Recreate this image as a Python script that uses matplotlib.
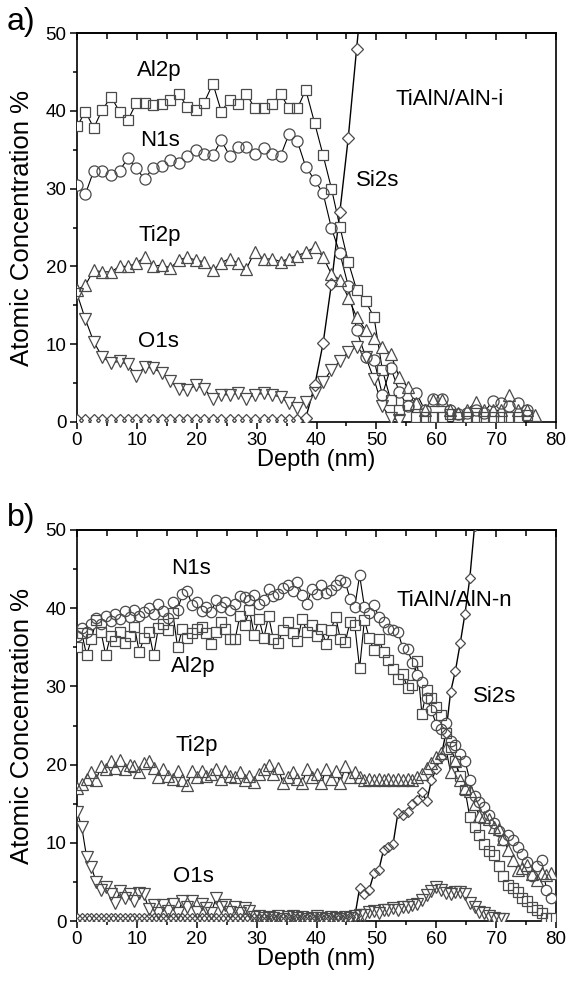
import matplotlib
matplotlib.use("Agg")
import matplotlib.pyplot as plt
from matplotlib.ticker import MultipleLocator

plt.rcParams['font.family'] = ['Liberation Sans', 'DejaVu Sans']

# ---------------- Panel a data (TiAlN/AlN-i) ----------------
depth_a = [0.0, 1.4, 2.8, 4.2, 5.7, 7.1, 8.5, 9.9, 11.3, 12.7,
           14.2, 15.6, 17.0, 18.4, 19.8, 21.2, 22.7, 24.1, 25.5, 26.9,
           28.3, 29.7, 31.2, 32.6, 34.0, 35.4, 36.8, 38.2, 39.7, 41.1,
           42.5, 43.9, 45.3, 46.7, 48.2, 49.6, 51.0, 52.4, 53.8, 55.2,
           56.7, 58.1, 59.5, 60.9, 62.3, 63.7, 65.2, 66.6, 68.0, 69.4,
           70.8, 72.2, 73.7, 75.1, 76.5]

al2p_a = [38.0, 39.9, 37.8, 40.1, 41.8, 39.9, 38.8, 41.0, 41.0, 40.7,
          40.9, 41.4, 42.2, 40.5, 40.1, 41.0, 43.5, 39.9, 41.4, 40.9,
          42.2, 40.3, 40.4, 40.9, 42.2, 40.3, 40.3, 42.7, 38.4, 34.3,
          30.0, 25.1, 20.6, 17.0, 15.5, 13.5, 6.7, 2.8, 1.5, 2.2,
          0.7, 0.7, 0.7, 0.7, 1.0, 0.7, 0.7, 0.7, 0.7, 0.7,
          0.7, 0.7, 0.7, 0.9]

n1s_a = [30.5, 29.3, 32.3, 32.2, 31.7, 32.3, 33.9, 32.6, 31.2, 32.7,
         32.9, 33.7, 33.3, 34.2, 34.9, 34.4, 34.3, 36.2, 34.2, 35.4,
         35.3, 34.4, 35.2, 34.4, 34.2, 37.0, 36.1, 32.8, 31.1, 29.4,
         24.9, 21.7, 17.5, 11.8, 8.4, 8.0, 3.5, 7.0, 3.9, 2.0,
         3.7, 1.5, 3.0, 3.0, 1.5, 1.0, 1.2, 1.5, 1.2, 2.7,
         2.4, 2.0, 2.4, 1.5]

ti2p_a = [17.0, 17.6, 19.5, 19.3, 19.3, 20.0, 20.0, 20.4, 21.2, 20.0,
          20.2, 19.8, 20.8, 21.2, 20.8, 20.6, 19.5, 20.5, 21.0, 20.4,
          19.7, 21.9, 20.9, 21.0, 20.6, 21.0, 21.4, 21.8, 22.5, 21.2,
          19.0, 18.3, 16.0, 13.5, 11.8, 10.8, 9.7, 8.7, 5.8, 4.5,
          2.5, 1.5, 2.8, 2.8, 1.5, 1.2, 1.5, 2.6, 1.5, 1.5,
          1.5, 3.5, 1.5, 1.5, 0.9]

o1s_a = [16.5, 13.2, 10.3, 8.4, 7.6, 7.8, 7.4, 5.9, 7.1, 6.9,
         6.3, 5.3, 4.2, 4.1, 4.7, 4.3, 3.0, 3.5, 3.5, 3.7,
         3.0, 3.5, 3.7, 3.5, 3.2, 2.4, 1.8, 2.6, 3.7, 5.2,
         6.7, 7.8, 9.0, 9.7, 8.4, 5.5, 2.0, 0.5, 0.2]

si2s_a = [0.3, 0.3, 0.3, 0.3, 0.3, 0.3, 0.3, 0.3, 0.3, 0.3,
          0.3, 0.3, 0.3, 0.3, 0.3, 0.3, 0.3, 0.3, 0.3, 0.3,
          0.3, 0.3, 0.3, 0.3, 0.3, 0.3, 0.3, 0.5, 4.7, 10.1,
          17.8, 27.0, 36.5, 48.0, 60.0]

# ---------------- Panel b data (TiAlN/AlN-n) ----------------
depth_b = [0.0, 0.8, 1.6, 2.4, 3.2, 4.0, 4.8, 5.6, 6.4, 7.2,
           8.0, 8.8, 9.6, 10.4, 11.2, 12.0, 12.8, 13.6, 14.4, 15.2,
           16.0, 16.8, 17.6, 18.4, 19.2, 20.0, 20.8, 21.6, 22.4, 23.2,
           24.0, 24.8, 25.6, 26.4, 27.2, 28.0, 28.8, 29.6, 30.4, 31.2,
           32.0, 32.8, 33.6, 34.4, 35.2, 36.0, 36.8, 37.6, 38.4, 39.2,
           40.0, 40.8, 41.6, 42.4, 43.2, 44.0, 44.8, 45.6, 46.4, 47.2,
           48.0, 48.8, 49.6, 50.4, 51.2, 52.0, 52.8, 53.6, 54.4, 55.2,
           56.0, 56.8, 57.6, 58.4, 59.2, 60.0, 60.8, 61.6, 62.4, 63.2,
           64.0, 64.8, 65.6, 66.4, 67.2, 68.0, 68.8, 69.6, 70.4, 71.2,
           72.0, 72.8, 73.6, 74.4, 75.2, 76.0, 76.8, 77.6, 78.4, 79.2]

n1s_b = [36.5, 37.5, 37.0, 38.0, 38.7, 38.0, 39.0, 38.4, 39.3, 38.6,
         39.6, 38.9, 39.8, 39.0, 39.5, 40.0, 39.2, 40.5, 39.6, 38.8,
         40.8, 39.8, 41.8, 42.2, 40.4, 40.8, 39.6, 40.2, 39.5, 41.0,
         40.2, 40.8, 39.8, 40.6, 41.6, 41.4, 41.0, 41.7, 40.6, 41.0,
         42.4, 41.6, 41.8, 42.6, 43.0, 42.2, 43.4, 41.7, 40.6, 42.4,
         41.8, 43.0, 42.0, 42.3, 43.0, 43.6, 43.4, 41.2, 40.2, 44.2,
         40.2, 39.4, 40.4, 38.9, 38.2, 37.3, 37.2, 37.0, 34.9, 34.8,
         33.0, 31.5, 30.6, 28.5, 27.0, 25.1, 24.6, 25.3, 23.0, 22.5,
         21.4, 20.5, 18.0, 16.0, 15.2, 14.6, 13.5, 12.5, 11.5, 10.4,
         11.0, 10.4, 9.4, 8.6, 7.5, 5.7, 7.0, 7.8, 4.0, 3.0]

al2p_b = [35.0, 36.8, 34.0, 36.0, 38.5, 37.0, 34.0, 36.5, 35.8, 37.0,
          35.5, 36.5, 37.6, 34.4, 36.2, 37.0, 34.0, 37.5, 38.0, 37.2,
          39.4, 35.0, 37.4, 36.2, 36.8, 37.4, 37.6, 36.8, 35.4, 37.0,
          38.2, 37.4, 36.0, 36.0, 39.0, 37.8, 39.8, 36.6, 38.6, 36.2,
          39.0, 36.0, 35.6, 37.2, 38.2, 36.8, 35.8, 38.6, 37.0, 37.8,
          36.4, 37.4, 35.4, 37.2, 38.9, 36.0, 35.7, 38.2, 37.8, 32.3,
          38.5, 36.2, 34.6, 36.1, 34.4, 33.4, 32.2, 31.0, 31.6, 29.8,
          30.2, 33.2, 26.5, 29.5, 28.5, 27.4, 26.3, 24.0, 22.3, 20.4,
          18.5, 16.8, 13.3, 12.0, 11.0, 9.9, 9.0, 8.4, 7.0, 5.7,
          4.6, 4.2, 3.7, 3.0, 2.5, 1.8, 1.4, 1.0, 0.4, 0.4]

ti2p_b = [17.0, 17.5, 18.2, 19.0, 18.0, 19.8, 19.4, 20.4, 19.6, 20.6,
          19.4, 20.0, 19.8, 19.0, 20.2, 20.4, 19.6, 18.4, 19.4, 18.6,
          18.2, 19.2, 18.0, 17.4, 19.2, 18.4, 19.2, 18.6, 18.8, 19.4,
          18.2, 19.2, 18.6, 18.4, 19.0, 18.0, 18.6, 17.8, 18.8, 19.4,
          20.0, 18.8, 19.6, 17.6, 18.4, 19.0, 18.2, 17.6, 19.4, 18.4,
          18.8, 17.6, 19.4, 18.2, 19.2, 17.6, 19.8, 18.4, 19.0, 18.4,
          18.0, 18.2, 18.0, 18.2, 18.0, 18.2, 18.0, 18.2, 18.0, 18.2,
          18.0, 18.4, 18.8, 19.6, 20.2, 21.0, 21.5, 22.1, 19.0, 20.5,
          18.0, 17.0, 16.6, 15.0, 13.4, 13.3, 13.0, 12.0, 11.8, 10.5,
          9.1, 7.8, 6.5, 6.8, 7.2, 6.0, 5.2, 6.1, 5.9, 6.1]

o1s_b = [14.0, 12.0, 8.2, 6.9, 5.0, 4.0, 4.4, 3.5, 2.3, 3.8,
         3.0, 3.5, 2.5, 3.6, 3.4, 1.5, 2.0, 1.0, 2.0, 1.3,
         2.2, 1.0, 2.5, 1.8, 2.6, 1.2, 2.2, 1.6, 1.0, 2.9,
         1.8, 2.0, 1.2, 1.8, 1.0, 1.6, 1.3, 0.5, 0.6, 0.4,
         0.5, 0.4, 0.6, 0.3, 0.5, 0.6, 0.4, 0.5, 0.3, 0.4,
         0.6, 0.4, 0.3, 0.5, 0.4, 0.3, 0.5, 0.4, 0.6, 0.8,
         0.8, 1.2, 1.3, 1.0, 1.4, 1.4, 1.6, 1.4, 1.8, 1.8,
         2.0, 2.2, 2.7, 3.3, 3.8, 4.4, 4.0, 3.6, 3.5, 3.7,
         3.7, 3.5, 2.3, 1.8, 1.2, 1.0, 0.6, 0.4, 0.3, 0.3]

si2s_b = [0.4, 0.4, 0.4, 0.4, 0.4, 0.4, 0.4, 0.4, 0.4, 0.4,
          0.4, 0.4, 0.4, 0.4, 0.4, 0.4, 0.4, 0.4, 0.4, 0.4,
          0.4, 0.4, 0.4, 0.4, 0.4, 0.4, 0.4, 0.4, 0.4, 0.4,
          0.4, 0.4, 0.4, 0.4, 0.4, 0.4, 0.4, 0.4, 0.4, 0.4,
          0.4, 0.4, 0.4, 0.4, 0.4, 0.4, 0.4, 0.4, 0.4, 0.4,
          0.4, 0.4, 0.4, 0.4, 0.4, 0.4, 0.4, 0.5, 0.6, 4.2,
          3.5, 4.0, 6.1, 6.5, 9.1, 9.5, 9.9, 13.8, 13.5, 14.0,
          15.0, 15.5, 16.5, 15.3, 18.0, 19.5, 21.0, 24.0, 29.3, 32.0,
          35.5, 39.3, 43.8, 50.5, 58.0]

# ---------------- styling ----------------
EDGE = '#4a4a4a'
FIG_W, FIG_H = 569, 983

fig = plt.figure(figsize=(FIG_W / 100, FIG_H / 100), dpi=100)
ax_a = fig.add_axes([77 / FIG_W, 1 - 422 / FIG_H, 479 / FIG_W, 389 / FIG_H])
ax_b = fig.add_axes([77 / FIG_W, 1 - 921 / FIG_H, 479 / FIG_W, 391 / FIG_H])


def draw_series(ax, entries):
    # lines at the bottom, then white marker bodies, then all outlines,
    # so lines show gaps at markers while overlapping outlines stay visible
    for x, y, m, ms, lw in entries:
        ax.plot(x[:len(y)], y, ls='-', color='black', lw=lw, zorder=2)
    for x, y, m, ms, lw in entries:
        ax.plot(x[:len(y)], y, ls='none', marker=m, ms=ms, mfc='white',
                mec='none', zorder=3)
    for x, y, m, ms, lw in entries:
        ax.plot(x[:len(y)], y, ls='none', marker=m, ms=ms, mfc='none',
                mec=EDGE, mew=0.9, zorder=4)


def style(ax):
    ax.set_xlim(0, 80)
    ax.set_ylim(0, 50)
    ax.xaxis.set_major_locator(MultipleLocator(10))
    ax.xaxis.set_minor_locator(MultipleLocator(5))
    ax.yaxis.set_major_locator(MultipleLocator(10))
    ax.yaxis.set_minor_locator(MultipleLocator(5))
    ax.tick_params(axis='both', which='major', labelsize=13.5, length=5,
                   width=1.1, direction='out', pad=2.5)
    ax.tick_params(axis='both', which='minor', length=3, width=1.1,
                   direction='out')
    ax.tick_params(axis='x', which='both', top=False)
    for s in ax.spines.values():
        s.set_linewidth(1.2)
    ax.set_xlabel('Depth (nm)', fontsize=17, labelpad=0)
    ax.set_ylabel('Atomic Concentration %', fontsize=18.5, labelpad=8)
    top = ax.secondary_xaxis('top')
    top.xaxis.set_major_locator(MultipleLocator(10))
    top.xaxis.set_minor_locator(MultipleLocator(5))
    top.tick_params(axis='x', which='major', direction='in', length=5,
                    width=1.1, labeltop=False)
    top.tick_params(axis='x', which='minor', direction='in', length=4,
                    width=1.1)
    top.spines['top'].set_linewidth(1.2)


for ax in (ax_a, ax_b):
    style(ax)

# panel a
draw_series(ax_a, [
    (depth_a, si2s_a, 'D', 6.0, 1.0),
    (depth_a, o1s_a, 'v', 8.5, 0.8),
    (depth_a, ti2p_a, '^', 8.5, 0.8),
    (depth_a, n1s_a, 'o', 8.0, 0.8),
    (depth_a, al2p_a, 's', 7.5, 0.8),
])

tk = dict(fontsize=16, ha='center', va='center')
ax_a.text(13.7, 45.2, 'Al2p', **tk)
ax_a.text(13.9, 36.2, 'N1s', **tk)
ax_a.text(13.9, 24.0, 'Ti2p', **tk)
ax_a.text(13.6, 10.3, 'O1s', **tk)
ax_a.text(62.3, 41.4, 'TiAlN/AlN-i', **tk)
ax_a.text(50.2, 31.1, 'Si2s', **tk)

# panel b
draw_series(ax_b, [
    (depth_b, si2s_b, 'D', 5.5, 1.0),
    (depth_b, o1s_b, 'v', 8.0, 0.8),
    (depth_b, ti2p_b, '^', 8.0, 0.8),
    (depth_b, al2p_b, 's', 7.0, 0.8),
    (depth_b, n1s_b, 'o', 7.5, 0.8),
])

ax_b.text(19.1, 45.1, 'N1s', **tk)
ax_b.text(19.4, 32.5, 'Al2p', **tk)
ax_b.text(20.0, 22.5, 'Ti2p', **tk)
ax_b.text(19.4, 5.7, 'O1s', **tk)
ax_b.text(63.1, 41.0, 'TiAlN/AlN-n', **tk)
ax_b.text(69.8, 28.7, 'Si2s', **tk)

fig.text(21 / FIG_W, 1 - 22 / FIG_H, 'a)', fontsize=23, ha='center', va='center')
fig.text(21 / FIG_W, 1 - 518 / FIG_H, 'b)', fontsize=23, ha='center', va='center')

fig.savefig('out.png', dpi=100)
